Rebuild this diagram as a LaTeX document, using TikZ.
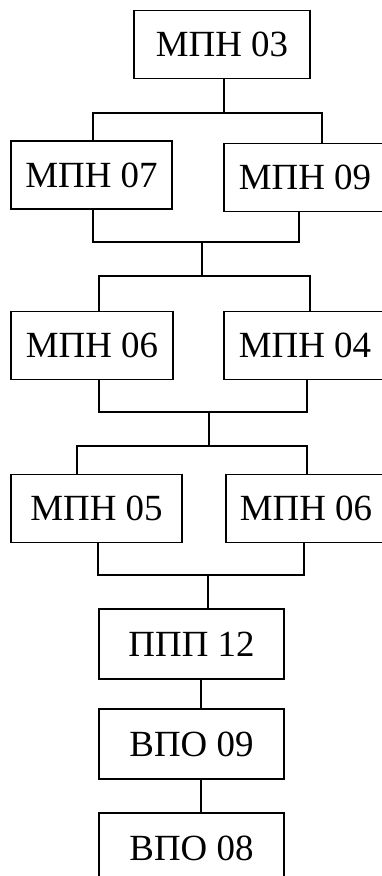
\documentclass[tikz,border=0pt]{standalone}
\usepackage{fontspec}
\setmainfont{Liberation Serif}
\begin{document}
\begin{tikzpicture}[x=0.02cm, y=-0.02cm, line width=1.1pt,
  box/.style={rectangle,draw,minimum height=1.36cm,inner sep=0pt,font=\fontsize{21}{25}\selectfont},
  wide/.style={minimum width=#1*0.02cm}]
\clip (0,0) rectangle (382,876);
% boxes
\node [box,wide=176] (b03) at (222,44.5) {МПН 03};
\node [box,wide=161] (b07) at (91.5,175) {МПН 07};
\node [box,wide=162] (b09) at (305,177.5) {МПН 09};
\node [box,wide=162] (b06a) at (92,345.5) {МПН 06};
\node [box,wide=162] (b04) at (305,345.5) {МПН 04};
\node [box,wide=171] (b05) at (96.5,508.5) {МПН 05};
\node [box,wide=160] (b06b) at (306,508.5) {МПН 06};
\node [box,wide=185,minimum height=1.4cm] (p12) at (191.5,644) {ППП 12};
\node [box,wide=185,minimum height=1.4cm] (v09) at (191.5,744) {ВПО 09};
\node [box,wide=185,minimum height=1.4cm] (v08) at (191.5,848) {ВПО 08};
% bars
\coordinate (a1) at (93,113);  \coordinate (c1) at (322,113);
\coordinate (a2) at (93,242);  \coordinate (c2) at (299,242);
\coordinate (a3) at (99,276);  \coordinate (c3) at (310,276);
\coordinate (a4) at (99,412);  \coordinate (c4) at (307,412);
\coordinate (a5) at (77,446);  \coordinate (c5) at (307,446);
\coordinate (a6) at (98,575);  \coordinate (c6) at (304,575);
\coordinate (m1) at (224,0);
\coordinate (m2) at (202,242);
\coordinate (m4) at (209,412);
\coordinate (m6) at (208,575);
\coordinate (m7) at (201,0);
\path[draw]
(b03.south -| m1) -- (m1 |- a1)
(b07.north -| a1) -- (a1) -- (c1) -- (b09.north -| c1)
(b07.south -| a2) -- (a2) -- (c2) -- (b09.south -| c2)
(m2) -- (m2 |- a3)
(b06a.north -| a3) -- (a3) -- (c3) -- (b04.north -| c3)
(b06a.south -| a4) -- (a4) -- (c4) -- (b04.south -| c4)
(m4) -- (m4 |- a5)
(b05.north -| a5) -- (a5) -- (c5) -- (b06b.north -| c5)
(b05.south -| a6) -- (a6) -- (c6) -- (b06b.south -| c6)
(m6) -- (p12.north -| m6)
(p12.south -| m7) -- (v09.north -| m7)
(v09.south -| m7) -- (v08.north -| m7)
;
\end{tikzpicture}
\end{document}
